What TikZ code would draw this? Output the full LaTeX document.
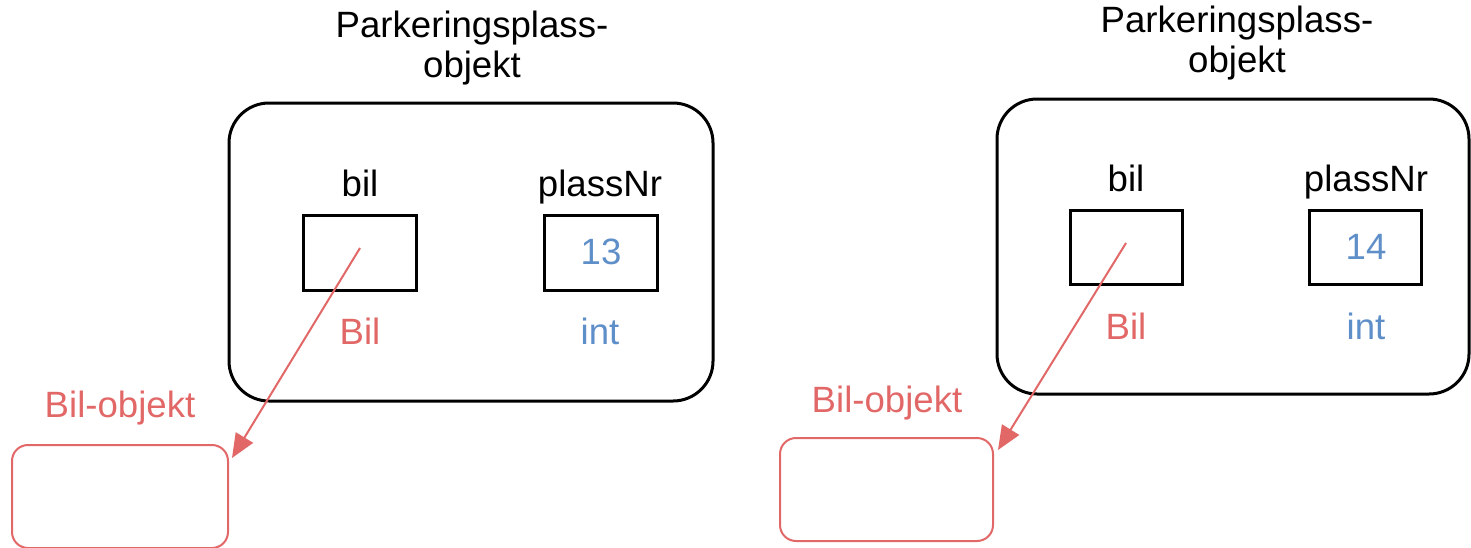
\documentclass[tikz,border=0pt]{standalone}
\usepackage{fontspec}
\setmainfont{Liberation Sans}
\usetikzlibrary{arrows.meta}
\definecolor{redc}{HTML}{E26868}
\definecolor{bluec}{HTML}{5F8FC9}
\tikzset{
  txt/.style={font=\fontsize{18.3}{21}\selectfont, inner sep=0pt, anchor=base},
  outer/.style={draw=black, line width=1.5pt, rounded corners=20pt, fill=white, inner sep=0pt},
  field/.style={draw=black, line width=1.5pt, fill=white, inner sep=0pt},
  target/.style={draw=redc, line width=1pt, rounded corners=8pt, fill=white, inner sep=0pt},
  ref/.style={draw=redc, line width=1pt, -{Triangle[length=12pt,width=10pt]}},
}
\begin{document}
\begin{tikzpicture}[x=0.5pt,y=-0.5pt]
\useasboundingbox (0,0) rectangle (1471,547);

% ---------- left ----------
\node[txt] (t1a) at (472,37) {Parkeringsplass-};
\node[txt] (t1b) at (472,77) {objekt};
\node[outer, minimum width=242pt, minimum height=149pt] (p1) at (471,252) {};
\node[txt] (l1bil) at (360,196) {bil};
\node[txt] (l1pn) at (600,196) {plassNr};
\node[field, minimum width=56.5pt, minimum height=37.5pt] (b1) at (360,252.5) {};
\node[field, minimum width=56.5pt, minimum height=37.5pt] (n1) at (600.5,252.5) {};
\node[txt, text=bluec] (v1) at (601,264) {13};
\node[txt, text=redc] (y1) at (360,344) {Bil};
\node[txt, text=bluec] (i1) at (600,344) {int};
\node[txt, text=redc] (o1lab) at (120,417) {Bil-objekt};
\node[target, minimum width=108pt, minimum height=51.5pt] (o1) at (120,496.5) {};
\coordinate (s1) at (360,248);
\coordinate (e1) at (232,458);
\draw[ref] (s1) -- (e1);

% ---------- right ----------
\node[txt] (t2a) at (1237,32) {Parkeringsplass-};
\node[txt] (t2b) at (1237,72) {objekt};
\node[outer, minimum width=236pt, minimum height=147.5pt] (p2) at (1233,246.5) {};
\node[txt] (l2bil) at (1126,191) {bil};
\node[txt] (l2pn) at (1366,191) {plassNr};
\node[field, minimum width=56pt, minimum height=37pt] (b2) at (1126,247) {};
\node[field, minimum width=56pt, minimum height=37pt] (n2) at (1365.5,247) {};
\node[txt, text=bluec] (v2) at (1366,259) {14};
\node[txt, text=redc] (y2) at (1126,339) {Bil};
\node[txt, text=bluec] (i2) at (1366,339) {int};
\node[txt, text=redc] (o2lab) at (887,412) {Bil-objekt};
\node[target, minimum width=106.5pt, minimum height=51.5pt] (o2) at (886.5,489.5) {};
\coordinate (s2) at (1126,243);
\coordinate (e2) at (998,450);
\draw[ref] (s2) -- (e2);
\end{tikzpicture}
\end{document}
